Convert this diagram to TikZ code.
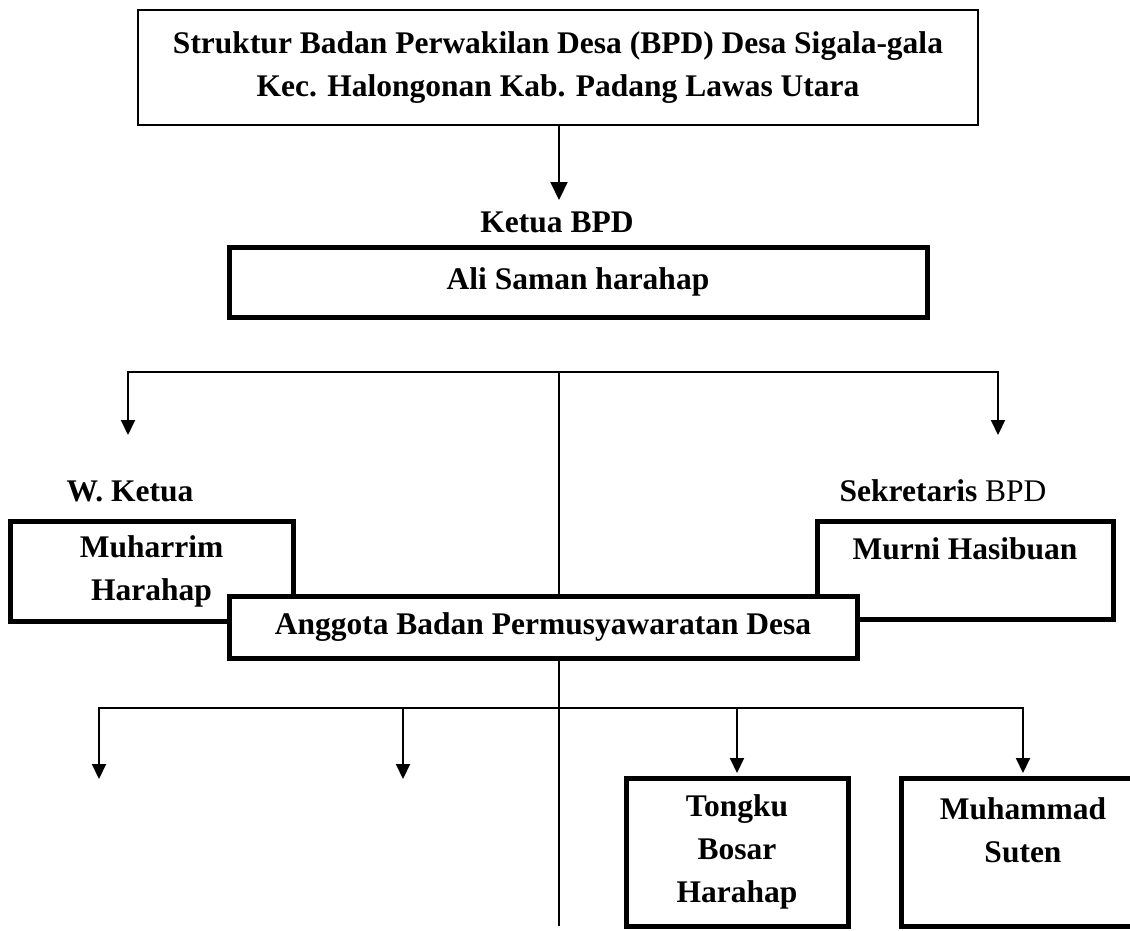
\documentclass[tikz,border=0pt]{standalone}
\usepackage{fontspec}
\setmainfont{Liberation Serif}
\usetikzlibrary{arrows.meta,positioning}

\begin{document}
\begin{tikzpicture}[x=1pt,y=-1pt,>={Triangle[length=15pt,width=14pt]},
  font=\fontsize{31.5}{43}\selectfont\bfseries,
  thinbox/.style={draw,line width=2pt,inner sep=0pt,align=center},
  thickbox/.style={draw,line width=5pt,inner sep=0pt,align=center,fill=white},
  lbl/.style={inner sep=0pt},
  link/.style={line width=2pt}]
\useasboundingbox (0,0) rectangle (1130,930);
% title and ketua
\node[thinbox,minimum width=840pt,minimum height=115pt] (title) at (558,67.5)
  {Struktur Badan Perwakilan Desa (BPD) Desa Sigala-gala\\Kec. Halongonan Kab. Padang Lawas Utara};
\node[lbl] (ketua) at (557,222) {Ketua BPD};
\node[thickbox,minimum width=698pt,minimum height=70pt] (ali) at (578,282) {Ali Saman harahap};
\coordinate (ketuaTip) at (559,200);
\draw[link,-{Triangle[length=18pt,width=17pt]}] (title.south -| ketuaTip) -- (ketuaTip);
% branch to wakil and sekretaris
\coordinate (hubA) at (559,372);
\coordinate (hubEnd) at (559,926);
\coordinate (wkTip) at (128,435);
\coordinate (skTip) at (998,435);
\draw[link] (hubA) -- (hubEnd);
\draw[link,->] (hubA) -| (wkTip);
\draw[link,->] (hubA) -| (skTip);
\node[lbl] (wklbl) at (130,491) {W. Ketua};
\node[lbl] (sklbl) at (943,491) {Sekretaris \mdseries BPD};
\node[thickbox,minimum width=283pt,minimum height=100pt] (wakil) at (151.5,571) {Muharrim\\Harahap};
\node[thickbox,minimum width=296pt,minimum height=98pt] (sekre) at (965,570) {Murni Hasibuan\\\mbox{}};
\node[thickbox,minimum width=628pt,minimum height=62pt] (anggota) at (543,627) {Anggota Badan Permusyawaratan Desa};
% anggota row
\coordinate (hubB) at (559,708);
\coordinate (a1Tip) at (99,779);
\coordinate (a2Tip) at (403,779);
\node[thickbox,minimum width=222pt,minimum height=148pt] (tongku) at (737,852) {Tongku\\Bosar\\Harahap};
\node[thickbox,minimum width=244pt,minimum height=148pt] (suten) at (1023,852) {Muhammad\\Suten\\\mbox{}};
\draw[link,->] (hubB) -| (a1Tip);
\draw[link,->] (hubB) -| (a2Tip);
\draw[link,->,shorten >=2.5pt] (hubB) -| (tongku.north);
\draw[link,->,shorten >=2.5pt] (hubB) -| (suten.north);
\end{tikzpicture}
\end{document}
